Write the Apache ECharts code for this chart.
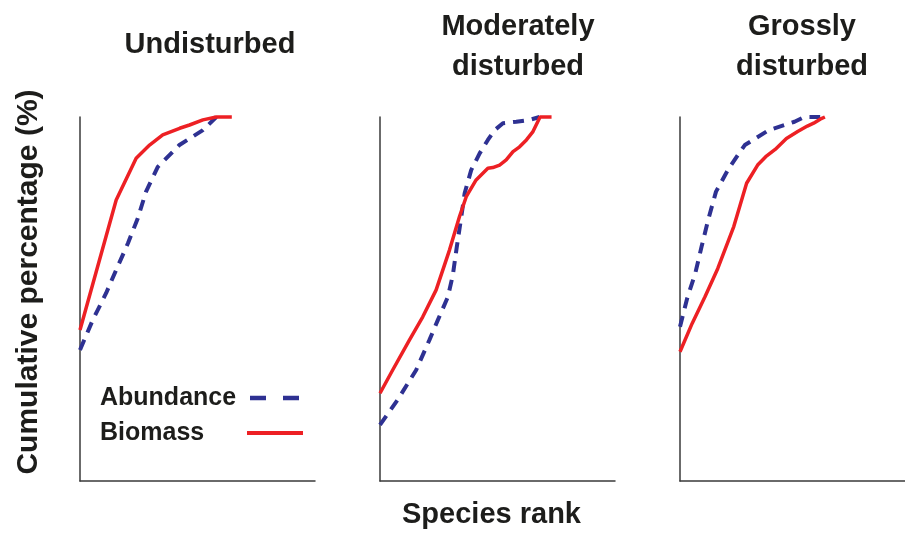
<!DOCTYPE html>
<html>
<head>
<meta charset="utf-8">
<title>ABC curves</title>
<script src="https://cdn.jsdelivr.net/npm/echarts@6/dist/echarts.min.js"></script>
<style>
  html, body { margin: 0; padding: 0; background: #fff; }
  #chart { width: 905px; height: 534px; }
</style>
</head>
<body>
<div id="chart"></div>
<script>
// panel titles
const panelTitles = ['Undisturbed', 'Moderately\ndisturbed', 'Grossly\ndisturbed']
const seriesNames = ['Abundance', 'Biomass']

// species rank (0-100 of axis length) and cumulative %
// undisturbed
const undAbundX = [0, 5.4, 11.1, 15.4, 20.4, 24.6, 28.1, 33.1, 42.3, 52.3, 58]
const undAbundY = [36, 44.2, 51.6, 58, 65.3, 72.2, 79.5, 86.3, 92.3, 96.4, 100]
const undBioX = [0, 15.4, 23.9, 29.6, 35.2, 42.4, 46.6, 52.3, 58, 64.6]
const undBioY = [41.5, 77.2, 88.7, 92.3, 95.1, 96.9, 97.8, 99.2, 100, 100]
// moderately disturbed
const modAbundX = [0, 7.5, 15.4, 21, 24.6, 28.9, 31, 32.7, 34.6, 36, 38.8, 42.4, 45.9, 48.8, 52.3, 58, 63.7, 67.9]
const modAbundY = [15.4, 22.3, 30.5, 38.7, 44.2, 50.6, 56.6, 64.4, 72.6, 79, 85.4, 90, 93.7, 96.4, 98.3, 98.7, 99.2, 100]
const modBioX = [0, 5.4, 12.5, 18.2, 23.9, 29.6, 33.8, 36.7, 40.9, 45.9, 48, 50.9, 53.7, 56.6, 59.4, 62.3, 65.1, 68.1, 73]
const modBioY = [24.1, 30.5, 38.7, 45.1, 52.5, 63.5, 72.6, 78.1, 82.7, 85.9, 86.1, 86.8, 88.2, 90.5, 91.8, 93.7, 96, 100, 100]
// grossly disturbed
const grsAbundX = [0, 3.2, 6.8, 9.6, 12.5, 16, 21.7, 28.8, 39.5, 50.9, 55.2, 62.3]
const grsAbundY = [42.4, 50.2, 57.1, 64.4, 71.7, 79.5, 85.9, 92.3, 96.4, 98.7, 100, 100]
const grsBioX = [0, 5.4, 11.1, 16.8, 23.9, 29.6, 34.5, 38.1, 42.3, 47.3, 52.3, 56.6, 59.4, 62.3, 64.4]
const grsBioY = [35.5, 43.3, 50.6, 58.4, 69.9, 81.8, 86.8, 89.1, 91.1, 94.1, 96, 97.5, 98.3, 99.4, 100]

const FONT = '"Liberation Sans", Arial, sans-serif'
const TXT = '#1d1d1b'
const BLUE = '#2e3192'
const RED = '#ed2024'
const AXIS = '#3a3a3a'

function zip(xs, ys)
{
  return xs.map((x, i) => [x, ys[i]])
}

const panels = [
  { abund: zip(undAbundX, undAbundY), bio: zip(undBioX, undBioY) },
  { abund: zip(modAbundX, modAbundY), bio: zip(modBioX, modBioY) },
  { abund: zip(grsAbundX, grsAbundY), bio: zip(grsBioX, grsBioY) }
]
const gridLeft = [80, 380, 680]
const titleX = [210, 518, 802]
const titleY = [25, 7, 7]

const axisLine = { show: true, lineStyle: { color: AXIS, width: 1.5 } }

const chart = echarts.init(document.getElementById('chart'))
chart.setOption({
  animation: false,
  grid: gridLeft.map(l => ({ left: l, top: 117, width: 235, height: 364 })),
  xAxis: gridLeft.map((l, i) => ({
    type: 'value', gridIndex: i, min: 0, max: 100,
    axisLine: axisLine, axisTick: { show: false }, axisLabel: { show: false }, splitLine: { show: false },
    name: i === 1 ? 'Species rank' : '',
    nameLocation: 'middle', nameGap: 19,
    nameTextStyle: { fontSize: 29, fontWeight: 'bold', fontFamily: FONT, color: TXT, padding: [0, 12, 0, 0] }
  })),
  yAxis: gridLeft.map((l, i) => ({
    type: 'value', gridIndex: i, min: 0, max: 100,
    axisLine: axisLine, axisTick: { show: false }, axisLabel: { show: false }, splitLine: { show: false },
    name: i === 0 ? 'Cumulative percentage (%)' : '',
    nameLocation: 'middle', nameRotate: 90, nameGap: 36,
    nameTextStyle: { fontSize: 30, fontWeight: 'bold', fontFamily: FONT, color: TXT, padding: [0, 0, 0, 34] }
  })),
  legend: {
    orient: 'vertical', left: 100, top: 385.5, padding: 0,
    align: 'right', itemWidth: 56, itemHeight: 14, itemGap: 10,
    selectedMode: false,
    itemStyle: { opacity: 0, borderWidth: 0 },
    data: [
      { name: 'Abundance', lineStyle: { type: [16, 17], dashOffset: -3, width: 4.5 } },
      { name: 'Biomass', lineStyle: { width: 4 } }
    ],
    formatter: '{a|{name}}',
    textStyle: {
      rich: { a: { width: 142, align: 'left', lineHeight: 25, fontSize: 25, fontWeight: 'bold', fontFamily: FONT, color: TXT } }
    }
  },
  graphic: panelTitles.map((t, i) => ({
    type: 'text', x: titleX[i], y: titleY[i],
    style: { text: t, align: 'center', verticalAlign: 'top', lineHeight: 40,
      fontSize: 29, fontWeight: 'bold', fontFamily: FONT, fill: TXT }
  })),
  series: panels.flatMap((p, i) => [
    {
      name: seriesNames[0], type: 'line', xAxisIndex: i, yAxisIndex: i, data: p.abund,
      symbol: 'none', clip: false,
      lineStyle: { color: BLUE, width: 4, type: [11, 8] }, itemStyle: { color: BLUE }
    },
    {
      name: seriesNames[1], type: 'line', xAxisIndex: i, yAxisIndex: i, data: p.bio,
      symbol: 'none', clip: false,
      lineStyle: { color: RED, width: 3.5 }, itemStyle: { color: RED }
    }
  ])
})
</script>
</body>
</html>
